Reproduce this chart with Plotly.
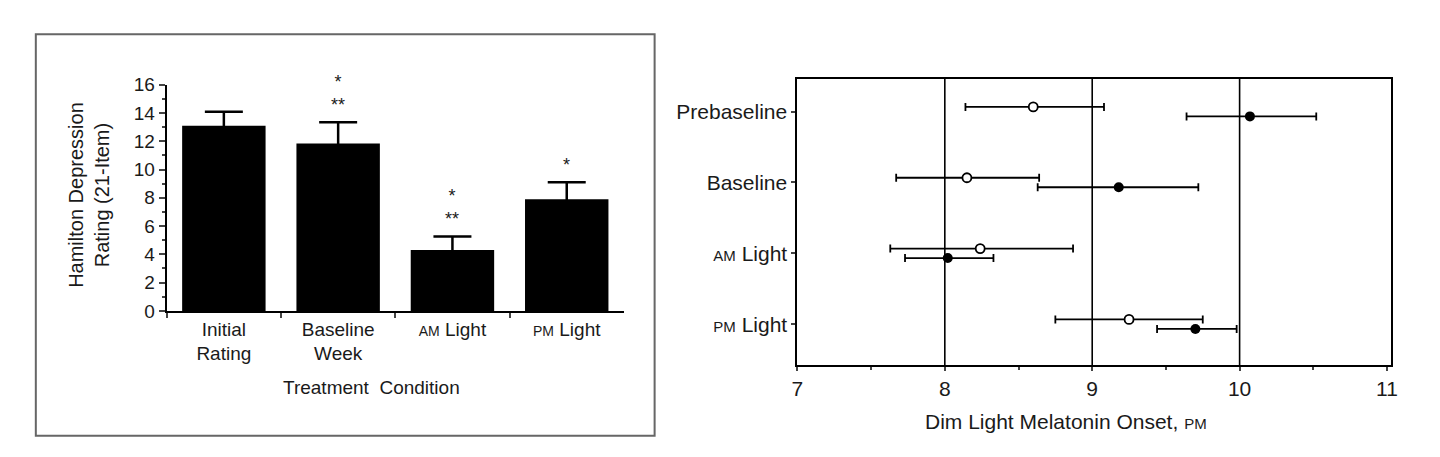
import plotly.graph_objects as go

# left panel: Hamilton depression ratings
conditions = ["Initial Rating", "Baseline Week", "AM Light", "PM Light"]
hamd_mean = [13.1, 11.85, 4.3, 7.9]
hamd_sem = [1.0, 1.5, 0.97, 1.2]
stars_low = ["", "**", "**", "*"]
stars_high = ["", "*", "*", ""]

# right panel: dim light melatonin onset (PM hours)
phases = ["Prebaseline", "Baseline", "AM Light", "PM Light"]
open_dlmo = [8.60, 8.15, 8.24, 9.25]
open_lo = [8.14, 7.67, 7.63, 8.75]
open_hi = [9.08, 8.64, 8.87, 9.75]
filled_dlmo = [10.07, 9.18, 8.02, 9.70]
filled_lo = [9.64, 8.63, 7.73, 9.44]
filled_hi = [10.52, 9.72, 8.33, 9.98]

W, H = 1440, 457
FONT = "Liberation Sans, Arial, sans-serif"
INK = "#1a1a1a"


def px_x(p):
    return p / W


def px_y(p):
    return 1 - p / H


def small_caps(s, size):
    for tag in ("AM", "PM"):
        s = s.replace(tag, "<span style='font-size:%dpx'>%s</span>" % (size, tag))
    return s


def cond_label(c):
    if c.endswith("Light"):
        return small_caps(c, 14)
    return c.replace(" ", "<br>")


fig = go.Figure()

fig.add_trace(go.Bar(
    x=conditions, y=hamd_mean, width=0.73,
    marker=dict(color="black", line=dict(width=0)),
    error_y=dict(type="data", array=hamd_sem, color="black", thickness=2.5, width=19),
    xaxis="x", yaxis="y", showlegend=False,
))

# row positions for the right panel: top row first
rows = [len(phases) - i for i in range(len(phases))]
off = 0.067

fig.add_trace(go.Scatter(
    x=open_dlmo, y=[r + off for r in rows], mode="markers",
    marker=dict(symbol="circle", size=9, color="white", line=dict(color="black", width=1.8)),
    error_x=dict(type="data", symmetric=False,
                 array=[h - m for h, m in zip(open_hi, open_dlmo)],
                 arrayminus=[m - l for m, l in zip(open_dlmo, open_lo)],
                 color="black", thickness=1.8, width=4),
    xaxis="x2", yaxis="y2", showlegend=False,
))
fig.add_trace(go.Scatter(
    x=filled_dlmo, y=[r - off for r in rows], mode="markers",
    marker=dict(symbol="circle", size=10, color="black"),
    error_x=dict(type="data", symmetric=False,
                 array=[h - m for h, m in zip(filled_hi, filled_dlmo)],
                 arrayminus=[m - l for m, l in zip(filled_dlmo, filled_lo)],
                 color="black", thickness=1.8, width=4),
    xaxis="x2", yaxis="y2", showlegend=False,
))

annotations = []
for c, m, e, lo, hi in zip(conditions, hamd_mean, hamd_sem, stars_low, stars_high):
    if not lo:
        continue
    txt = hi + "<br>" + lo if hi else lo
    annotations.append(dict(x=c, y=m + e, xref="x", yref="y", text=txt, showarrow=False,
                            xanchor="center", yanchor="bottom", yshift=5,
                            font=dict(size=18, color=INK)))

annotations.append(dict(text="Hamilton Depression<br>Rating (21-Item)", textangle=-90,
                        x=px_x(76), y=px_y(185), xref="paper", yref="paper",
                        xanchor="center", yanchor="middle",
                        showarrow=False, font=dict(size=20, color=INK)))
annotations.append(dict(text="Treatment  Condition", x=px_x(361), y=px_y(387),
                        xref="paper", yref="paper", xanchor="center", yanchor="middle",
                        showarrow=False, font=dict(size=19, color=INK)))
annotations.append(dict(text="Dim Light Melatonin Onset, " + small_caps("PM", 15),
                        x=px_x(1061), y=px_y(423), xref="paper", yref="paper",
                        xanchor="center", yanchor="middle",
                        showarrow=False, font=dict(size=21, color=INK)))

shapes = [dict(type="rect", xref="paper", yref="paper",
               x0=px_x(22), x1=px_x(646), y0=px_y(438), y1=px_y(17),
               line=dict(color="#666666", width=2))]
for g in range(8, 11):
    shapes.append(dict(type="line", xref="x2", yref="y2 domain", x0=g, x1=g, y0=0, y1=1,
                       line=dict(color="black", width=1.6), layer="below"))

fig.update_layout(
    width=W, height=H,
    margin=dict(l=0, r=0, t=0, b=0),
    paper_bgcolor="white", plot_bgcolor="white",
    font=dict(family=FONT, color=INK),
    bargap=0.27,
    xaxis=dict(domain=[px_x(154), px_x(615)], type="category", range=[-0.5, 3.5],
               tickvals=conditions, ticktext=[cond_label(c) for c in conditions],
               tickson="boundaries", ticks="outside", ticklen=5, tickwidth=1.5,
               showline=True, linecolor="black", linewidth=2,
               tickfont=dict(size=19, color=INK), anchor="y"),
    yaxis=dict(domain=[px_y(307), px_y(70)], range=[0, 16], dtick=2,
               ticks="outside", ticklen=6, tickwidth=2,
               minor=dict(dtick=1, ticks="outside", ticklen=3, tickwidth=1.5),
               showline=True, linecolor="black", linewidth=2,
               showgrid=False, zeroline=False,
               tickfont=dict(size=19, color=INK), anchor="x"),
    xaxis2=dict(domain=[px_x(790), px_x(1389)], range=[7, 11.03], dtick=1,
                ticks="outside", ticklen=4, tickwidth=1.5,
                minor=dict(dtick=0.5, ticks="outside", ticklen=3, tickwidth=1.5),
                showline=True, linecolor="black", linewidth=2, mirror=True,
                showgrid=False, zeroline=False,
                tickfont=dict(size=21, color=INK), anchor="y2"),
    yaxis2=dict(domain=[px_y(364), px_y(64)], range=[0.42, 4.46],
                tickvals=rows, ticktext=[small_caps(p, 15) for p in phases],
                ticks="outside", ticklen=4, tickwidth=1.5,
                showline=True, linecolor="black", linewidth=2, mirror=True,
                showgrid=False, zeroline=False,
                tickfont=dict(size=21, color=INK), anchor="x2"),
    annotations=annotations,
    shapes=shapes,
)

fig.write_html("out.html")
